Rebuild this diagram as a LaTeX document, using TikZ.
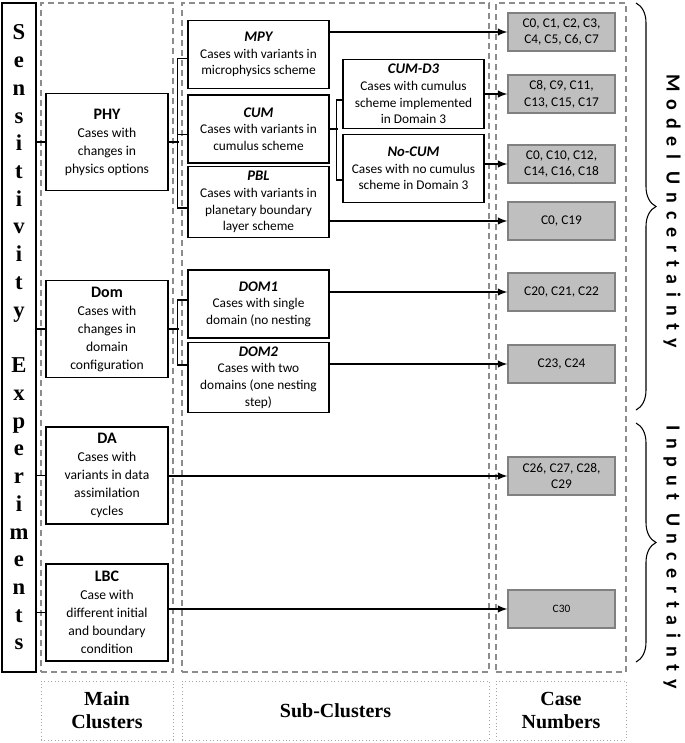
\documentclass[tikz,border=0pt]{standalone}
\usepackage{fontspec}
\setmainfont{Carlito}
\newfontfamily\timesfont{Liberation Serif}
\newfontfamily\spacedfont[LetterSpace=39, BoldFont={* Bold}]{Carlito}
\usetikzlibrary{decorations.pathreplacing}

\tikzset{
  mainbox/.style={draw, line width=0.8pt, fill=white, minimum width=91.5pt, minimum height=72.75pt, align=center, font=\fontsize{10.2}{13.5}\selectfont},
  subbox/.style={draw, line width=0.8pt, fill=white, minimum width=105.75pt, minimum height=51pt, align=center, font=\fontsize{10}{12.5}\selectfont},
  casebox/.style={draw=black!50, fill=black!25, line width=0.8pt, minimum width=80.25pt, minimum height=28.5pt, align=center, font=\fontsize{10}{12.5}\selectfont},
  column/.style={draw=black!45, line width=0.8pt, dash pattern=on 4.5pt off 3pt, minimum height=501.75pt},
  caption/.style={draw=black!35, line width=0.6pt, dotted, minimum height=44.25pt, align=center, font=\timesfont\bfseries\fontsize{15}{17}\selectfont},
  arr/.style={-latex, line width=1.45pt},
  tree/.style={line width=0.8pt},
  brace/.style={decorate, decoration={brace, amplitude=15pt}, line width=0.8pt},
  uncert/.style={rotate=-90, font=\spacedfont\bfseries\fontsize{15}{17}\selectfont}
}

\begin{document}
\begin{tikzpicture}[x=0.75pt, y=-0.75pt]
  \useasboundingbox (0, 0) rectangle (685, 743);

  \node[column, minimum width=99pt] (colmain) at (107, 337.5) {};
  \node[column, minimum width=230.25pt] (colsub) at (335.5, 337.5) {};
  \node[column, minimum width=97.5pt] (colcase) at (561, 337.5) {};

  \node[caption, minimum width=99pt] (capmain) at (107, 710.5) {Main\\Clusters};
  \node[caption, minimum width=230.25pt] (capsub) at (335.5, 710.5) {Sub-Clusters};
  \node[caption, minimum width=97.5pt] (capcase) at (561, 710.5) {Case\\Numbers};

  \node[draw, line width=1pt, minimum width=25.5pt, minimum height=501.75pt, inner sep=0pt, align=center, font=\timesfont\bfseries\fontsize{17}{20.8}\selectfont] (sens) at (19, 337.5)
    {S\\e\\n\\s\\i\\t\\i\\v\\i\\t\\y\\[20.8pt]E\\x\\p\\e\\r\\i\\m\\e\\n\\t\\s};

  \node[mainbox] (phy) at (107, 142) {{\fontsize{12}{14}\selectfont\bfseries PHY}\\Cases with\\changes in\\physics options};
  \node[mainbox] (dom) at (107, 329) {{\fontsize{12}{14}\selectfont\bfseries Dom}\\Cases with\\changes in\\domain\\configuration};
  \node[mainbox] (da) at (107, 475.5) {{\fontsize{12}{14}\selectfont\bfseries DA}\\Cases with\\variants in data\\assimilation\\cycles};
  \node[mainbox] (lbc) at (107, 612.5) {{\fontsize{12}{14}\selectfont\bfseries LBC}\\Case with\\different initial\\and boundary\\condition};

  \node[subbox] (mpy) at (258.5, 54.5) {{\fontsize{11}{13}\selectfont\bfseries\itshape MPY}\\Cases with variants in\\microphysics scheme};
  \node[subbox] (cum) at (258.5, 129) {{\fontsize{11}{13}\selectfont\bfseries\itshape CUM}\\Cases with variants in\\cumulus scheme};
  \node[subbox] (pbl) at (258.5, 202) {{\fontsize{11}{13}\selectfont\bfseries\itshape PBL}\\Cases with variants in\\planetary boundary\\layer scheme};
  \node[subbox] (cumd3) at (413.5, 94) {{\fontsize{11}{13}\selectfont\bfseries\itshape CUM-D3}\\Cases with cumulus\\scheme implemented\\in Domain 3};
  \node[subbox] (nocum) at (413.5, 168.5) {{\fontsize{11}{13}\selectfont\bfseries\itshape No-CUM}\\Cases with no cumulus\\scheme in Domain 3};
  \node[subbox] (dom1) at (258.5, 304) {{\fontsize{11}{13}\selectfont\bfseries\itshape DOM1}\\Cases with single\\domain (no nesting};
  \node[subbox] (dom2) at (258.5, 377.5) {{\fontsize{11}{13}\selectfont\bfseries\itshape DOM2}\\Cases with two\\domains (one nesting\\step)};

  \node[casebox] (cmpy) at (561.5, 32) {C0, C1, C2, C3,\\C4, C5, C6, C7};
  \node[casebox] (ccumd3) at (561.5, 94) {C8, C9, C11,\\C13, C15, C17};
  \node[casebox] (cnocum) at (561.5, 164) {C0, C10, C12,\\C14, C16, C18};
  \node[casebox] (cpbl) at (561.5, 221) {C0, C19};
  \node[casebox] (cdom1) at (561.5, 292) {C20, C21, C22};
  \node[casebox] (cdom2) at (561.5, 364) {C23, C24};
  \node[casebox] (cda) at (561.5, 476) {C26, C27, C28,\\C29};
  \node[casebox, font=\fontsize{8.5}{10}\selectfont] (clbc) at (561.5, 609) {C30};

  \draw[tree] (sens.east |- phy.west) -- (phy.west);
  \draw[tree] (sens.east |- dom.west) -- (dom.west);
  \draw[tree] (sens.east |- da.west) -- (da.west);
  \draw[tree] (sens.east |- lbc.west) -- (lbc.west);

  \draw[tree] (phy.east) -- ++(7.5pt, 0);
  \draw[tree] ([yshift=-3pt]mpy.west) -- ++(-7.5pt, 0) |- ([yshift=-4.5pt]pbl.west);
  \draw[tree] ([yshift=-4pt]cum.west) -- ++(-7.5pt, 0);

  \draw[tree] (cum.east) -- ++(6pt, 0);
  \draw[tree] ([yshift=-4.5pt]cumd3.west) -- ++(-4.5pt, 0) |- ([yshift=-8.6pt]nocum.west);

  \draw[tree] (dom.east) -- ++(7.5pt, 0);
  \draw[tree] ([yshift=3pt]dom1.west) -- ++(-7.5pt, 0) |- ([yshift=9.4pt]dom2.west);

  \draw[arr] (mpy.east |- cmpy) -- (cmpy);
  \draw[arr] (cumd3.east |- ccumd3) -- (ccumd3);
  \draw[arr] (nocum.east |- cnocum) -- (cnocum);
  \draw[arr] (pbl.east |- cpbl) -- (cpbl);
  \draw[arr] (dom1.east |- cdom1) -- (cdom1);
  \draw[arr] (dom2.east |- cdom2) -- (cdom2);
  \draw[arr] (da.east |- cda) -- (cda);
  \draw[arr] (lbc.east |- clbc) -- (clbc);

  \coordinate (modeltop) at (636, 3);
  \coordinate (modelbot) at (636, 410);
  \coordinate (inputtop) at (636, 423);
  \coordinate (inputbot) at (636, 662);
  \draw[brace] (modeltop) -- (modelbot);
  \draw[brace] (inputtop) -- (inputbot);

  \node[uncert] (model) at (672, 211) {Model Uncertainty};
  \node[uncert] (input) at (672, 557) {Input Uncertainty};

\end{tikzpicture}
\end{document}
